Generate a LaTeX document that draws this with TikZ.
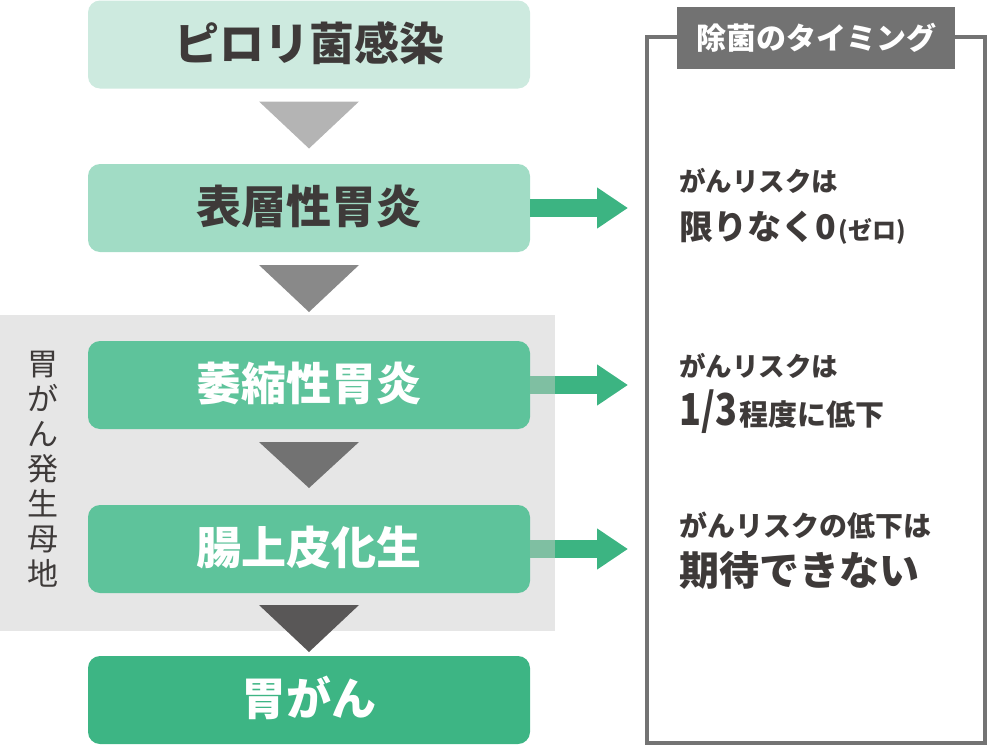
\documentclass[tikz,border=0pt]{standalone}
\usepackage{fontspec}
\setmainfont{Noto Sans CJK JP}
\usetikzlibrary{calc,arrows.meta}
\definecolor{boxA}{HTML}{CDEADF}
\definecolor{boxB}{HTML}{A1DCC5}
\definecolor{boxC}{HTML}{5EC39B}
\definecolor{boxD}{HTML}{3DB584}
\definecolor{triA}{HTML}{B4B4B4}
\definecolor{triB}{HTML}{898989}
\definecolor{triC}{HTML}{727272}
\definecolor{triD}{HTML}{595757}
\definecolor{zonegray}{HTML}{E6E6E6}
\definecolor{txtdark}{HTML}{3E3A39}
\definecolor{framegray}{HTML}{737373}
\definecolor{arrowgreen}{HTML}{3CB482}
\definecolor{arrowpale}{HTML}{7FBFA2}
\newcommand{\fsz}[1]{\fontsize{#1}{#1}\selectfont}
\begin{document}
\begin{tikzpicture}[x=1pt,y=-1pt,
  stage/.style={rounded corners=12pt, minimum width=442pt, minimum height=88pt,
    inner sep=0pt, outer sep=0pt, font=\fsz{45}\bfseries, text height=36pt, text depth=5pt},
  riskline/.style={anchor=base west, inner sep=0pt, text=txtdark, font=\bfseries},
  flowarrow/.style={arrowgreen, line width=18pt, -{Triangle[length=31pt,width=39pt]}},
]
\useasboundingbox (0,0) rectangle (989,747);
% background zone
\node[fill=zonegray, minimum width=555pt, minimum height=316pt, inner sep=0pt, outer sep=0pt] (zone) at (277.5,473) {};
\node[text=txtdark, font=\fontsize{31}{35}\selectfont, align=center, inner sep=0pt, anchor=north] (zlabel) at (43,351)
  {胃\\が\\ん\\発\\生\\母\\地};
% right frame
\node[draw=framegray, line width=4pt, minimum width=338pt, minimum height=706pt, inner sep=0pt, outer sep=0pt] (frame) at (816,390) {};
\node[fill=triC, text=white, font=\fsz{30}\bfseries, minimum width=278pt, minimum height=62pt, inner sep=0pt] (title) at (816,38) {除菌のタイミング};
% stages
\node[stage, fill=boxA, text=txtdark] (b1) at (309,44.5) {ピロリ菌感染};
\node[stage, fill=boxB, text=txtdark] (b2) at (309,208) {表層性胃炎};
\node[stage, fill=boxC, text=white] (b3) at (309,385) {萎縮性胃炎};
\node[stage, fill=boxC, text=white] (b4) at (309,549) {腸上皮化生};
\node[stage, fill=boxD, text=white] (b5) at (309,700) {胃がん};
% down triangles
\fill[triA] ($(b1.south)+(-50,13)$) -- ($(b1.south)+(50,13)$) -- ($(b1.south)+(0,60)$) -- cycle;
\fill[triB] ($(b2.south)+(-50,13)$) -- ($(b2.south)+(50,13)$) -- ($(b2.south)+(0,60)$) -- cycle;
\fill[triC] ($(b3.south)+(-50,13)$) -- ($(b3.south)+(50,13)$) -- ($(b3.south)+(0,59)$) -- cycle;
\fill[triD] ($(b4.south)+(-50,12)$) -- ($(b4.south)+(50,12)$) -- ($(b4.south)+(0,59)$) -- cycle;
% side arrows
\coordinate (t2) at ($(frame.west |- b2.east)+(-19,0)$);
\coordinate (t3) at ($(frame.west |- b3.east)+(-19,0)$);
\coordinate (t4) at ($(frame.west |- b4.east)+(-19,0)$);
\draw[flowarrow] (b2.east) -- (t2);
\draw[flowarrow] (b3.east) -- (t3);
\draw[flowarrow] (b4.east) -- (t4);
\fill[arrowpale] ($(b3.east)+(0,-9)$) rectangle ($(zone.east |- b3.east)+(0,9)$);
\fill[arrowpale] ($(b4.east)+(0,-9)$) rectangle ($(zone.east |- b4.east)+(0,9)$);
% risk texts
\node[riskline, font=\fsz{26.5}\bfseries] (r1a) at (679,191.5) {がんリスクは};
\node[riskline] (r1b) at (679,239) {\fsz{34}限りなく0\hspace{3pt}\fsz{24}(ゼロ)};
\node[riskline, font=\fsz{26.5}\bfseries] (r2a) at (679,376) {がんリスクは};
\node[riskline] (r2b) at (679,425) {\fsz{44}\scalebox{0.82}[1]{1/3}\hspace{2pt}\fsz{29}程度に低下};
\node[riskline, font=\fsz{28}\bfseries] (r3a) at (679,536) {がんリスクの低下は};
\node[riskline, font=\fsz{40}\bfseries] (r3b) at (679,585) {期待できない};
\end{tikzpicture}
\end{document}
